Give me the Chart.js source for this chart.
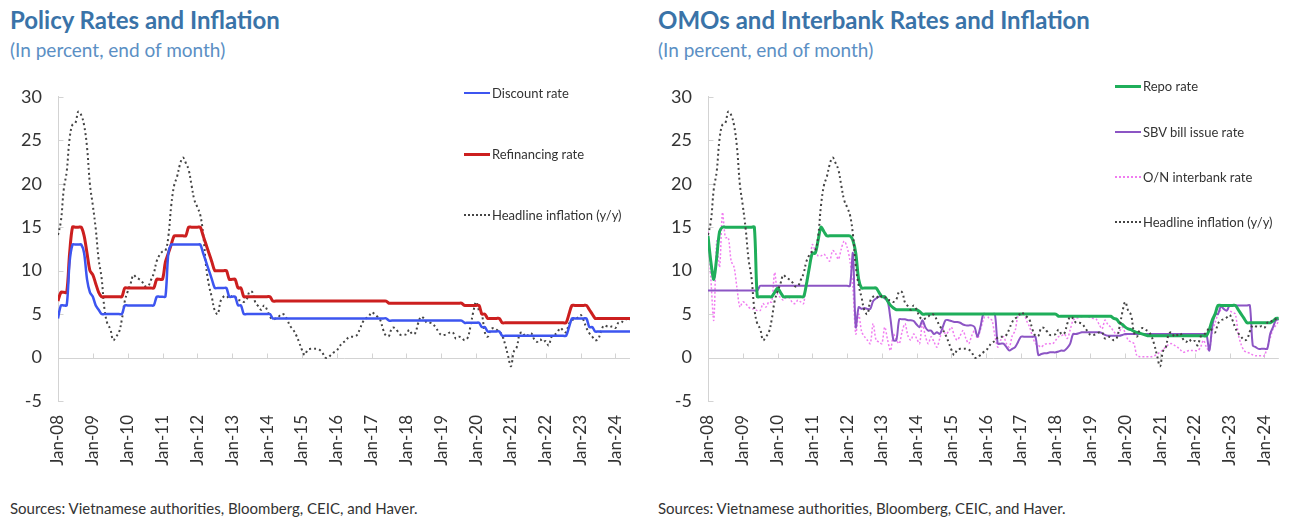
<!DOCTYPE html>
<html>
<head>
<meta charset="utf-8">
<script src="https://cdn.jsdelivr.net/npm/chart.js@4.4.1/dist/chart.umd.min.js"></script>
<style>
  body { margin: 0; width: 1291px; height: 520px; background: #fff; font-family: Lato, "Open Sans", sans-serif; position: relative; overflow: hidden; }
  .title { position: absolute; top: 5px; font-size: 24px; line-height: 30px; font-weight: bold; color: #3a73a8; }
  .sub { position: absolute; top: 38px; font-size: 19px; line-height: 24px; color: #5b8fc4; }
  .src { position: absolute; top: 499px; font-size: 15px; line-height: 18px; color: #333; }
  .box { position: absolute; top: 78px; height: 405px; }
  .leg { position: absolute; display: flex; align-items: center; font-size: 13px; color: #333; height: 16px; }
  .sw { display: inline-block; width: 26px; height: 0; margin-right: 2px; }
</style>
</head>
<body>
<div class="title" style="left:10px">Policy Rates and Inflation</div>
<div class="sub" style="left:10px">(In percent, end of month)</div>
<div class="title" style="left:658px">OMOs and Interbank Rates and Inflation</div>
<div class="sub" style="left:658px">(In percent, end of month)</div>

<div class="box" style="left:0;width:645px"><canvas id="c1"></canvas></div>
<div class="box" style="left:650px;width:641px"><canvas id="c2"></canvas></div>

<div class="leg" style="left:464px;top:85px"><span class="sw" style="border-top:2.5px solid #3d55f0"></span>Discount rate</div>
<div class="leg" style="left:464px;top:146px"><span class="sw" style="border-top:3px solid #cc1f1f"></span>Refinancing rate</div>
<div class="leg" style="left:464px;top:207px"><span class="sw" style="border-top:2px dotted #444"></span>Headline inflation (y/y)</div>

<div class="leg" style="left:1115px;top:78px"><span class="sw" style="border-top:3px solid #1fae5a"></span>Repo rate</div>
<div class="leg" style="left:1115px;top:124px"><span class="sw" style="border-top:2.5px solid #8c55c4"></span>SBV bill issue rate</div>
<div class="leg" style="left:1115px;top:169px"><span class="sw" style="border-top:2px dotted #f07cf0"></span>O/N interbank rate</div>
<div class="leg" style="left:1115px;top:214px"><span class="sw" style="border-top:2px dotted #444"></span>Headline inflation (y/y)</div>

<div class="src" style="left:10px">Sources: Vietnamese authorities, Bloomberg, CEIC, and Haver.</div>
<div class="src" style="left:658px">Sources: Vietnamese authorities, Bloomberg, CEIC, and Haver.</div>

<script>
// monthly data, Jan-08 .. Jun-24 (index 0 = Jan-08)
const tickLabels = ['Jan-08', 'Jan-09', 'Jan-10', 'Jan-11', 'Jan-12', 'Jan-13', 'Jan-14', 'Jan-15', 'Jan-16',
  'Jan-17', 'Jan-18', 'Jan-19', 'Jan-20', 'Jan-21', 'Jan-22', 'Jan-23', 'Jan-24'];

const discountRate = [
  4.5, 6, 6, 6, 11, 13, 13, 13, 13, 12, 9, 7.5,                 // 2008
  7, 6, 5.5, 5, 5, 5, 5, 5, 5, 5, 5, 6,                          // 2009
  6, 6, 6, 6, 6, 6, 6, 6, 6, 6, 7, 7,                            // 2010
  7, 7, 12, 13, 13, 13, 13, 13, 13, 13, 13, 13,                  // 2011
  13, 13, 12, 11, 10, 9, 8, 8, 8, 8, 8, 7,                       // 2012
  7, 7, 6, 6, 5, 5, 5, 5, 5, 5, 5, 5,                            // 2013
  5, 5, 4.5, 4.5, 4.5, 4.5, 4.5, 4.5, 4.5, 4.5, 4.5, 4.5,       // 2014
  4.5, 4.5, 4.5, 4.5, 4.5, 4.5, 4.5, 4.5, 4.5, 4.5, 4.5, 4.5,   // 2015
  4.5, 4.5, 4.5, 4.5, 4.5, 4.5, 4.5, 4.5, 4.5, 4.5, 4.5, 4.5,   // 2016
  4.5, 4.5, 4.5, 4.5, 4.5, 4.5, 4.25, 4.25, 4.25, 4.25, 4.25, 4.25, // 2017
  4.25, 4.25, 4.25, 4.25, 4.25, 4.25, 4.25, 4.25, 4.25, 4.25, 4.25, 4.25, // 2018
  4.25, 4.25, 4.25, 4.25, 4.25, 4.25, 4.25, 4.25, 4, 4, 4, 4,   // 2019
  4, 4, 3.5, 3.5, 3, 3, 3, 3, 3, 2.5, 2.5, 2.5,                  // 2020
  2.5, 2.5, 2.5, 2.5, 2.5, 2.5, 2.5, 2.5, 2.5, 2.5, 2.5, 2.5,   // 2021
  2.5, 2.5, 2.5, 2.5, 2.5, 2.5, 2.5, 2.5, 3.5, 4.5, 4.5, 4.5,   // 2022
  4.5, 4.5, 4.5, 3.5, 3.5, 3, 3, 3, 3, 3, 3, 3,                  // 2023
  3, 3, 3, 3, 3, 3                                               // 2024
];

const refinancingRate = [
  6.5, 7.5, 7.5, 7.5, 12, 15, 15, 15, 15, 14, 12, 10,           // 2008
  9.5, 8.5, 7.5, 7, 7, 7, 7, 7, 7, 7, 7, 8,                      // 2009
  8, 8, 8, 8, 8, 8, 8, 8, 8, 8, 9, 9,                            // 2010
  9, 11, 12, 13, 14, 14, 14, 14, 14, 15, 15, 15,                 // 2011
  15, 15, 14, 13, 12, 11, 10, 10, 10, 10, 10, 9,                 // 2012
  9, 9, 8, 8, 7, 7, 7, 7, 7, 7, 7, 7,                            // 2013
  7, 7, 6.5, 6.5, 6.5, 6.5, 6.5, 6.5, 6.5, 6.5, 6.5, 6.5,       // 2014
  6.5, 6.5, 6.5, 6.5, 6.5, 6.5, 6.5, 6.5, 6.5, 6.5, 6.5, 6.5,   // 2015
  6.5, 6.5, 6.5, 6.5, 6.5, 6.5, 6.5, 6.5, 6.5, 6.5, 6.5, 6.5,   // 2016
  6.5, 6.5, 6.5, 6.5, 6.5, 6.5, 6.25, 6.25, 6.25, 6.25, 6.25, 6.25, // 2017
  6.25, 6.25, 6.25, 6.25, 6.25, 6.25, 6.25, 6.25, 6.25, 6.25, 6.25, 6.25, // 2018
  6.25, 6.25, 6.25, 6.25, 6.25, 6.25, 6.25, 6.25, 6, 6, 6, 6,   // 2019
  6, 6, 5, 5, 4.5, 4.5, 4.5, 4.5, 4.5, 4, 4, 4,                  // 2020
  4, 4, 4, 4, 4, 4, 4, 4, 4, 4, 4, 4,                            // 2021
  4, 4, 4, 4, 4, 4, 4, 4, 5, 6, 6, 6,                            // 2022
  6, 6, 6, 5.5, 5, 4.5, 4.5, 4.5, 4.5, 4.5, 4.5, 4.5,           // 2023
  4.5, 4.5, 4.5, 4.5, 4.5, 4.5                                   // 2024
];

const headlineInflation = [
  14.1, 15.7, 19.4, 21.4, 25.2, 26.8, 27.0, 28.3, 27.9, 26.7, 24.2, 19.9, // 2008
  17.5, 14.8, 11.3, 9.2, 5.6, 3.9, 3.3, 2.0, 2.4, 2.9, 4.4, 6.5,          // 2009
  7.6, 8.5, 9.5, 9.2, 9.0, 8.7, 8.2, 8.2, 8.9, 9.7, 11.1, 11.8,           // 2010
  12.2, 12.3, 13.9, 17.5, 19.8, 20.8, 22.2, 23.0, 22.4, 21.6, 19.8, 18.1, // 2011
  17.3, 16.4, 14.2, 10.5, 8.3, 6.9, 5.4, 5.0, 6.5, 7.0, 7.1, 6.8,         // 2012
  7.1, 7.0, 6.6, 6.6, 6.4, 6.7, 7.6, 7.5, 6.3, 5.9, 5.5, 6.0,             // 2013
  5.5, 4.7, 4.4, 4.5, 4.7, 5.0, 4.9, 4.3, 3.6, 3.2, 2.6, 1.8,             // 2014
  0.9, 0.3, 0.9, 1.0, 1.0, 1.0, 0.9, 0.6, 0.0, 0.0, 0.3, 0.6,             // 2015
  0.8, 1.3, 1.7, 1.9, 2.3, 2.4, 2.4, 2.6, 3.3, 4.1, 4.5, 4.7,             // 2016
  5.2, 5.0, 4.7, 4.3, 3.2, 2.5, 2.5, 3.4, 3.4, 3.0, 2.6, 2.6,             // 2017
  2.7, 3.2, 2.7, 2.8, 3.9, 4.7, 4.5, 4.0, 4.0, 3.9, 3.5, 3.0,             // 2018
  2.6, 2.6, 2.7, 2.9, 2.9, 2.2, 2.4, 2.3, 2.0, 2.2, 3.5, 5.2,             // 2019
  6.4, 5.4, 4.9, 2.9, 2.4, 3.2, 3.4, 3.2, 3.0, 2.5, 1.5, 0.2,             // 2020
  -1.0, 0.7, 1.2, 2.7, 2.9, 2.4, 2.6, 2.8, 2.1, 1.8, 2.1, 1.8,            // 2021
  1.9, 1.4, 2.4, 2.6, 2.9, 3.4, 3.1, 2.9, 3.9, 4.3, 4.4, 4.6,             // 2022
  4.9, 4.3, 3.4, 2.8, 2.4, 2.0, 2.1, 3.0, 3.7, 3.6, 3.5, 3.6,             // 2023
  3.4, 4.0, 4.0, 4.4, 4.4, 4.3                                             // 2024
];

const repoRate = [
  14, 11, 9, 11.5, 14.5, 15, 15, 15, 15, 15, 15, 15,             // 2008
  15, 15, 15, 15, 15, 7, 7, 7, 7, 7, 7, 7.5,                     // 2009
  8, 7.5, 7, 7, 7, 7, 7, 7, 7, 7, 8.5, 10.4,                     // 2010
  12, 12, 13.5, 15, 14.5, 14, 14, 14, 14, 14, 14, 14,            // 2011
  14, 14, 13.5, 12, 9, 8, 8, 8, 8, 8, 8, 7.5,                    // 2012
  7, 7, 6.5, 6, 5.7, 5.5, 5.5, 5.5, 5.5, 5.5, 5.5, 5.5,          // 2013
  5.5, 5.3, 5, 5, 5, 5, 5, 5, 5, 5, 5, 5,                        // 2014
  5, 5, 5, 5, 5, 5, 5, 5, 5, 5, 5, 5,                            // 2015
  5, 5, 5, 5, 5, 5, 5, 5, 5, 5, 5, 5,                            // 2016
  5, 5, 5, 5, 5, 5, 5, 5, 5, 5, 5, 5,                            // 2017
  5, 4.75, 4.75, 4.75, 4.75, 4.75, 4.75, 4.75, 4.75, 4.75, 4.75, 4.75, // 2018
  4.75, 4.75, 4.75, 4.75, 4.75, 4.75, 4.75, 4.75, 4.5, 4.4, 4, 3.8,    // 2019
  3.5, 3.3, 3.2, 3, 2.9, 2.8, 2.7, 2.6, 2.5, 2.5, 2.5, 2.5,      // 2020
  2.5, 2.5, 2.5, 2.5, 2.5, 2.5, 2.5, 2.5, 2.5, 2.5, 2.5, 2.5,    // 2021
  2.5, 2.5, 2.5, 2.5, 2.5, 3.2, 4.3, 5, 6, 6, 6, 6,              // 2022
  6, 6, 6, 5.5, 5, 4.5, 4, 4, 4, 4, 4, 4,                        // 2023
  4, 4, 4, 4.2, 4.5, 4.5                                         // 2024
];

const sbvBillRate = [
  7.7, 7.7, 7.7, 7.7, 7.7, 7.7, 7.7, 7.7, 7.7, 7.7, 7.7, 7.7,    // 2008
  7.7, 7.7, 7.7, 7.7, 7.7, 7.7, 8.25, 8.25, 8.25, 8.25, 8.25, 8.25, // 2009
  8.25, 8.25, 8.25, 8.25, 8.25, 8.25, 8.25, 8.25, 8.25, 8.25, 8.25, 8.25, // 2010
  8.25, 8.25, 8.25, 8.25, 8.25, 8.25, 8.25, 8.25, 8.25, 8.25, 8.25, 8.25, // 2011
  8.25, 8.25, 12, 3.5, 5.8, 5.6, 5.7, 5.6, 5.6, 6.5, 6.8, 7,     // 2012
  7.1, 6.8, 6.5, 4.4, 2, 2, 4.4, 4.4, 4.4, 4.3, 4.3, 4.2,        // 2013
  3.8, 3.5, 4.3, 3.5, 3.1, 3.1, 2.7, 2.9, 2.7, 3.5, 4.3, 4.3,    // 2014
  4.2, 4.1, 4.1, 4, 3.8, 3.7, 3.7, 3.7, 3.5, 2.4, 3.5, 5,        // 2015
  5, 5, 5, 5, 1.6, 1.6, 1.6, 1.2, 0.8, 1, 1.2, 1.8,              // 2016
  2.4, 2.4, 2.4, 2.4, 2.4, 2.4, 0.3, 0.4, 0.5, 0.5, 0.6, 0.6,    // 2017
  0.6, 0.7, 0.8, 0.8, 1.1, 1.6, 2.7, 2.7, 2.8, 2.9, 2.9, 2.9,    // 2018
  2.9, 2.9, 2.9, 2.9, 2.8, 2.6, 2.5, 2.5, 2.5, 2.5, 2.5, 2.6,    // 2019
  2.7, 2.7, 2.7, 2.7, 2.7, 2.7, 2.7, 2.7, 2.7, 2.7, 2.7, 2.7,    // 2020
  2.7, 2.7, 2.7, 2.7, 2.7, 2.7, 2.7, 2.7, 2.7, 2.7, 2.7, 2.7,    // 2021
  2.7, 2.7, 2.7, 2.7, 2.7, 0.8, 3.5, 5, 5, 5.9, 5.6, 5.4,        // 2022
  6, 6, 6, 6, 6, 6, 6, 6, 1.4, 1.2, 1, 1,                        // 2023
  1, 1, 2.7, 3.5, 4.3, 4.4                                       // 2024
];

const interbankRate = [
  14.5, 9, 4.3, 13.4, 10.4, 16.7, 13.8, 13.8, 11.1, 10.4, 8, 5.8, // 2008
  6.4, 6.2, 5.8, 5.6, 5.6, 5.4, 5.4, 6.2, 5.8, 6.4, 6.4, 9.8,     // 2009
  7.3, 6.9, 6.6, 6.9, 6.9, 6.4, 6.2, 6.6, 6.4, 6.2, 9, 10.4,      // 2010
  13, 12.3, 11.7, 11.7, 11.9, 11.5, 11.1, 12.3, 12, 11.3, 12.5, 13.4, // 2011
  12.7, 11.1, 8.1, 2.7, 5, 3, 2.4, 2, 1.6, 3.9, 2, 1.8,           // 2012
  1.6, 3.5, 2, 0.8, 2.7, 2, 1.6, 3, 3.9, 2.5, 2, 2.7,             // 2013
  2.2, 1.6, 3.9, 2.5, 1.6, 2.4, 1.8, 1.2, 2.2, 3.3, 2.7, 3,       // 2014
  3.5, 2.5, 2, 2.5, 3.1, 2.2, 1.6, 2.5, 3.1, 2.2, 3.2, 4.3,       // 2015
  5, 4.5, 4.3, 2.5, 1.2, 2, 2.4, 1.6, 1.2, 2.5, 3.1, 4.8,         // 2016
  4.9, 5, 4.2, 3.5, 2.4, 1.6, 1.4, 1.2, 1.5, 1.6, 1.6, 1.6,       // 2017
  2, 2.4, 2.5, 2.7, 2.2, 3.2, 4.3, 4.5, 4.6, 4.7, 4.8, 4.7,       // 2018
  4.6, 4.5, 4.4, 3.8, 3.3, 4.3, 3.8, 3.5, 3, 2.7, 3, 3.5,         // 2019
  2.8, 2, 1.8, 1.6, 0.2, 0.1, 0.1, 0.1, 0.1, 0.1, 0.2, 0.4,       // 2020
  0.6, 0.9, 1.2, 1.5, 1.6, 1.4, 1.2, 0.9, 0.6, 0.7, 0.8, 0.8,     // 2021
  0.8, 0.8, 1.2, 2, 1.2, 0.8, 3, 4, 5, 5.5, 6, 5.7,               // 2022
  5.4, 5.2, 5, 2.7, 1.5, 0.8, 0.6, 0.5, 0.3, 0.2, 0.2, 0.2,       // 2023
  0.2, 1.2, 2.2, 3.3, 3.7, 4.2                                    // 2024
];

const pts = arr => arr.map((y, i) => ({ x: i, y: y }));

// zero line, inward y ticks and small year ticks on the zero line
const axisMarks = {
  id: 'axisMarks',
  beforeDatasetsDraw(chart) {
    const { ctx, chartArea, scales } = chart;
    const x = scales.x, y = scales.y;
    const y0 = Math.round(y.getPixelForValue(0)) + 0.5;
    const left = Math.round(chartArea.left) + 0.5;
    ctx.save();
    ctx.strokeStyle = '#d3d3d3';
    ctx.lineWidth = 1;
    ctx.beginPath();
    ctx.moveTo(left, y0);
    ctx.lineTo(chartArea.right, y0);
    x.ticks.forEach(t => {
      const px = Math.round(x.getPixelForValue(t.value)) + 0.5;
      ctx.moveTo(px, y0);
      ctx.lineTo(px, y0 - 5);
    });
    y.ticks.forEach(t => {
      const py = Math.round(y.getPixelForValue(t.value)) + 0.5;
      ctx.moveTo(left, py);
      ctx.lineTo(left + 5, py);
    });
    ctx.stroke();
    ctx.restore();
  }
};

function makeChart(id, datasets, padRight) {
  return new Chart(document.getElementById(id), {
    type: 'line',
    data: { datasets: datasets },
    plugins: [axisMarks],
    options: {
      responsive: true,
      maintainAspectRatio: false,
      animation: false,
      layout: { padding: { top: 8, right: padRight, left: 0, bottom: 0 } },
      elements: { point: { radius: 0 } },
      plugins: { legend: { display: false }, tooltip: { enabled: false } },
      scales: {
        x: {
          type: 'linear',
          min: 0,
          max: 197,
          afterBuildTicks: s => { s.ticks = tickLabels.map((_, i) => ({ value: i * 12 })); },
          afterFit: s => { s.height = 82; },
          grid: { display: false },
          border: { display: false },
          ticks: {
            autoSkip: false,
            minRotation: 90,
            maxRotation: 90,
            padding: 6,
            color: '#333',
            font: { family: 'Lato', size: 17 },
            callback: v => tickLabels[Math.round(v / 12)]
          }
        },
        y: {
          min: -5,
          max: 30,
          afterFit: s => { s.width = 58; },
          grid: { display: false },
          border: { display: true, color: '#d3d3d3', width: 1 },
          ticks: { stepSize: 5, padding: 8, color: '#333', font: { family: 'Lato', size: 18 } }
        }
      }
    }
  });
}

const inflationStyle = {
  label: 'Headline inflation (y/y)',
  data: pts(headlineInflation),
  borderColor: '#444',
  borderWidth: 2,
  borderDash: [2, 3],
  tension: 0.4
};

makeChart('c1', [
  { label: 'Discount rate', data: pts(discountRate), borderColor: '#3d55f0', borderWidth: 2.5, tension: 0.3 },
  { label: 'Refinancing rate', data: pts(refinancingRate), borderColor: '#cc1f1f', borderWidth: 3, tension: 0.3 },
  Object.assign({}, inflationStyle)
], 15);

makeChart('c2', [
  { label: 'Repo rate', data: pts(repoRate), borderColor: '#1fae5a', borderWidth: 3, tension: 0.3, order: 1 },
  { label: 'SBV bill issue rate', data: pts(sbvBillRate), borderColor: '#8c55c4', borderWidth: 2, tension: 0.3, order: 2 },
  { label: 'O/N interbank rate', data: pts(interbankRate), borderColor: '#f07cf0', borderWidth: 1.5, borderDash: [2, 2], tension: 0.3, order: 3 },
  Object.assign({ order: 0 }, inflationStyle)
], 10);
</script>
</body>
</html>
